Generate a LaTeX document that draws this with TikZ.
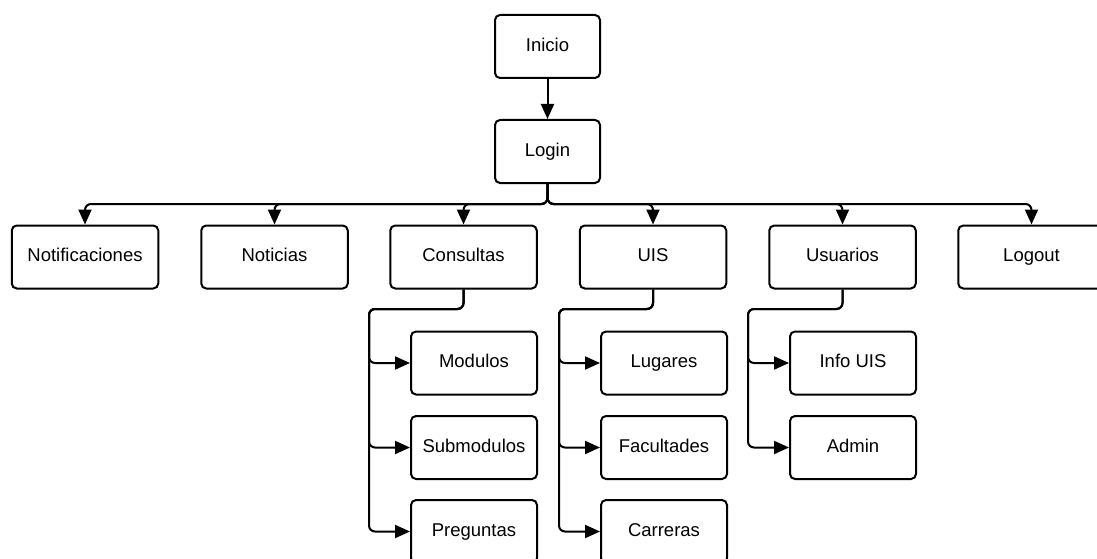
\documentclass[tikz,border=0pt]{standalone}
\usepackage{fontspec}
\setmainfont{Liberation Sans}
\usetikzlibrary{arrows.meta}
\begin{document}
\begin{tikzpicture}[x=1pt,y=-1pt,
  box/.style={draw, line width=2pt, rounded corners=5pt, minimum height=63pt, inner sep=0pt, text height=13.5pt, text depth=4pt, font=\fontsize{18.5}{20}\selectfont},
  topbox/.style={box, minimum width=146.5pt},
  headbox/.style={box, minimum width=105pt},
  subbox/.style={box, minimum width=126pt},
  conn/.style={line width=2pt, rounded corners=6pt, -{Triangle[length=15pt,width=13pt]}}]
\useasboundingbox (0,0) rectangle (1097,559);
\clip (0,0) rectangle (1097,559);
% head
\node[headbox] (inicio) at (547.5,46.5) {Inicio};
\node[headbox] (login) at (547.5,151.5) {Login};
% top row
\node[topbox] (notif) at (85,257) {Notificaciones};
\node[topbox] (noticias) at (274.5,257) {Noticias};
\node[topbox] (consultas) at (463.5,257) {Consultas};
\node[topbox] (uis) at (653,257) {UIS};
\node[topbox] (usuarios) at (842.5,257) {Usuarios};
\node[topbox] (logout) at (1031.5,257) {Logout};
% children
\node[subbox] (modulos) at (474,363) {Modulos};
\node[subbox] (submodulos) at (474,447.5) {Submodulos};
\node[subbox] (preguntas) at (474,531.5) {Preguntas};
\node[subbox] (lugares) at (664,363) {Lugares};
\node[subbox] (facultades) at (664,447.5) {Facultades};
\node[subbox] (carreras) at (664,531.5) {Carreras};
\node[subbox] (infouis) at (853,363) {Info UIS};
\node[subbox] (admin) at (853,447.5) {Admin};
% helper coordinates
\coordinate (bus) at (547.5,204);
\coordinate (cspine) at (369,309);
\coordinate (uspine) at (559,309);
\coordinate (sspine) at (748,309);
% connectors
\draw[conn] (inicio) -- (login);
\foreach \t in {notif,noticias,consultas,uis,usuarios,logout}{
  \draw[conn] (login.south) -- (bus) -| (\t.north);
}
\foreach \c in {modulos,submodulos,preguntas}{
  \draw[conn] (consultas.south) -- (consultas.south |- cspine) -- (cspine) -- (cspine |- \c.west) -- (\c.west);
}
\foreach \c in {lugares,facultades,carreras}{
  \draw[conn] (uis.south) -- (uis.south |- uspine) -- (uspine) -- (uspine |- \c.west) -- (\c.west);
}
\foreach \c in {infouis,admin}{
  \draw[conn] (usuarios.south) -- (usuarios.south |- sspine) -- (sspine) -- (sspine |- \c.west) -- (\c.west);
}
\end{tikzpicture}
\end{document}
